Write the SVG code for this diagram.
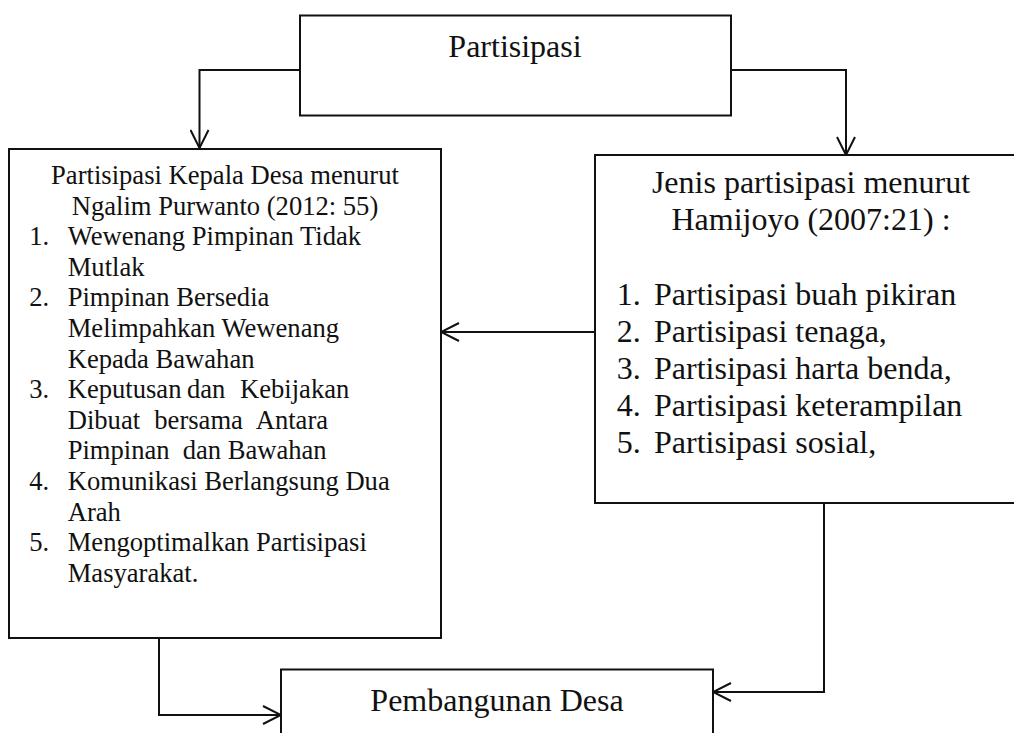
<svg xmlns="http://www.w3.org/2000/svg" width="1014" height="733" viewBox="0 0 1014 733">
<style>
.box{fill:#fff;stroke:#111;stroke-width:2}
.conn{fill:none;stroke:#111;stroke-width:2}
text{font-family:"Liberation Serif","Times New Roman",serif;fill:#111}
.big{font-size:32px}
.small{font-size:26.6px}
.mid{text-anchor:middle}
</style>
<defs>
<marker id="arr" markerUnits="userSpaceOnUse" viewBox="0 0 20 20" markerWidth="20" markerHeight="20" refX="19" refY="10" orient="auto">
<path d="M1,1 L19,10 L1,19" fill="none" stroke="#111" stroke-width="2"/>
</marker>
</defs>
<rect width="1014" height="733" fill="#fff"/>
<g id="connectors">
<path class="conn" d="M300,70 H199.5 V148" marker-end="url(#arr)"/>
<path class="conn" d="M731,70 H846 V155" marker-end="url(#arr)"/>
<path class="conn" d="M595,332 H441" marker-end="url(#arr)"/>
<path class="conn" d="M824,503 V692 H713" marker-end="url(#arr)"/>
<path class="conn" d="M159,638 V715 H281" marker-end="url(#arr)"/>
</g>
<g id="partisipasi">
<rect class="box" x="300" y="15.5" width="431" height="100"/>
<text class="big mid" x="515" y="57">Partisipasi</text>
</g>
<g id="kepala-desa">
<rect class="box" x="9" y="149" width="432" height="489"/>
<text class="small mid" x="225" y="184">Partisipasi Kepala Desa menurut</text>
<text class="small mid" x="225" y="214.6">Ngalim Purwanto (2012: 55)</text>
<text class="small" x="29.3" y="245.2">1.</text>
<text class="small" x="67.7" y="245.2">Wewenang Pimpinan Tidak</text>
<text class="small" x="67.7" y="275.8">Mutlak</text>
<text class="small" x="29.3" y="306.4">2.</text>
<text class="small" x="67.7" y="306.4">Pimpinan Bersedia</text>
<text class="small" x="67.7" y="337">Melimpahkan Wewenang</text>
<text class="small" x="67.7" y="367.6">Kepada Bawahan</text>
<text class="small" x="29.3" y="398.2">3.</text>
<text class="small" y="398.2"><tspan x="67.7">Keputusan</tspan><tspan x="187">dan</tspan><tspan x="240">Kebijakan</tspan></text>
<text class="small" y="428.8"><tspan x="67.7">Dibuat</tspan><tspan x="154.3">bersama</tspan><tspan x="255.7">Antara</tspan></text>
<text class="small" y="459.4"><tspan x="67.7">Pimpinan</tspan><tspan x="182.7">dan</tspan><tspan x="227.7">Bawahan</tspan></text>
<text class="small" x="29.3" y="490">4.</text>
<text class="small" x="67.7" y="490">Komunikasi Berlangsung Dua</text>
<text class="small" x="67.7" y="520.6">Arah</text>
<text class="small" x="29.3" y="551.2">5.</text>
<text class="small" x="67.7" y="551.2">Mengoptimalkan Partisipasi</text>
<text class="small" x="67.7" y="581.8">Masyarakat.</text>
</g>
<g id="jenis-partisipasi">
<rect class="box" x="595" y="155" width="432" height="348"/>
<text class="big mid" x="811" y="193">Jenis partisipasi menurut</text>
<text class="big mid" x="811" y="230.2">Hamijoyo (2007:21) :</text>
<text class="big" x="616.7" y="304.6">1.</text>
<text class="big" x="654" y="304.6">Partisipasi buah pikiran</text>
<text class="big" x="616.7" y="341.8">2.</text>
<text class="big" x="654" y="341.8">Partisipasi tenaga,</text>
<text class="big" x="616.7" y="379">3.</text>
<text class="big" x="654" y="379">Partisipasi harta benda,</text>
<text class="big" x="616.7" y="416.2">4.</text>
<text class="big" x="654" y="416.2">Partisipasi keterampilan</text>
<text class="big" x="616.7" y="453.4">5.</text>
<text class="big" x="654" y="453.4">Partisipasi sosial,</text>
</g>
<g id="pembangunan-desa">
<rect class="box" x="281" y="669.5" width="432" height="100"/>
<text class="big mid" x="497" y="710.7">Pembangunan Desa</text>
</g>
</svg>
